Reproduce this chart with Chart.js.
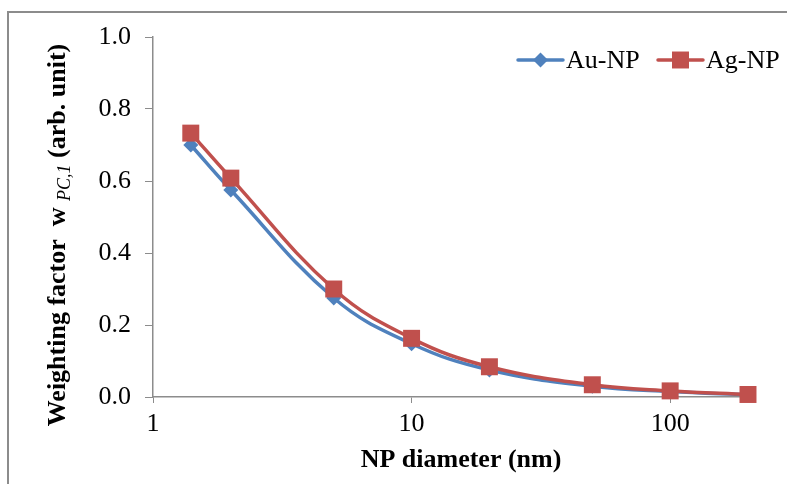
<!DOCTYPE html>
<html lang="en">

<head>
  <meta charset="UTF-8" />
  <title>Weighting factor vs NP diameter</title>
  <style>
    body {
      margin: 0;
      background: #fff;
    }
  </style>
</head>

<body>
  <canvas id="myChart" width="787" height="484"></canvas>

  <script src="https://cdn.jsdelivr.net/npm/chart.js"></script>
  <script>
    const diameters = [1.4, 2, 5, 10, 20, 50, 100, 200];
    const auNP = [0.70, 0.575, 0.275, 0.148, 0.075, 0.030, 0.015, 0.006];
    const agNP = [0.733, 0.608, 0.300, 0.163, 0.084, 0.034, 0.017, 0.007];
    const xTicks = [1, 10, 100];
    const seriesNames = ["Au-NP", "Ag-NP"];

    const blue = "#4f81bd";
    const red = "#c0504d";
    const serif = "'Liberation Serif', 'Times New Roman', serif";

    const toPoints = (ys) => diameters.map((d, i) => ({ x: d, y: ys[i] }));

    // frame, custom legend, axis titles (y one has a subscript)
    const extras = {
      id: "extras",
      beforeDraw(chart) {
        const c = chart.ctx;
        c.save();
        c.fillStyle = "#fff";
        c.fillRect(0, 0, chart.width, chart.height);
        c.strokeStyle = "#8c8c8c";
        c.lineWidth = 2;
        c.beginPath();
        c.moveTo(8, chart.height);
        c.lineTo(8, 12);
        c.lineTo(chart.width, 12);
        c.stroke();
        c.restore();
      },
      afterDraw(chart) {
        const c = chart.ctx;
        c.save();

        // legend
        const items = [
          { x: 518, color: blue, style: "rectRot", r: 7.5 },
          { x: 658, color: red, style: "rect", r: 12 },
        ];
        c.font = "26px " + serif;
        c.textBaseline = "middle";
        items.forEach((it, i) => {
          const y = 60;
          c.strokeStyle = it.color;
          c.lineWidth = 3.5;
          c.lineCap = "round";
          c.beginPath();
          c.moveTo(it.x, y);
          c.lineTo(it.x + 45, y);
          c.stroke();
          c.fillStyle = it.color;
          Chart.helpers.drawPoint(c, { pointStyle: it.style, radius: it.r, borderWidth: 0 }, it.x + 22.5, y);
          c.fillStyle = "#000";
          c.textAlign = "left";
          c.fillText(seriesNames[i], it.x + 48, y + 1);
        });

        // x axis title
        c.font = "bold 26px " + serif;
        c.textAlign = "center";
        c.textBaseline = "alphabetic";
        c.fillText("NP diameter (nm)", 461, 467);

        // y axis title
        const parts = [
          { t: "Weighting factor  w ", f: "bold 26px " + serif, dy: 0 },
          { t: "PC,1", f: "italic 18px " + serif, dy: 5 },
          { t: " (arb. unit)", f: "bold 26px " + serif, dy: 0 },
        ];
        let total = 0;
        parts.forEach((p) => {
          c.font = p.f;
          p.w = c.measureText(p.t).width;
          total += p.w;
        });
        c.translate(65, 235);
        c.rotate(-Math.PI / 2);
        c.textAlign = "left";
        let px = -total / 2;
        parts.forEach((p) => {
          c.font = p.f;
          c.fillText(p.t, px, p.dy);
          px += p.w;
        });
        c.restore();
      },
    };

    const ctx = document.getElementById("myChart");
    new Chart(ctx, {
      type: "line",
      data: {
        datasets: [
          {
            label: seriesNames[0],
            data: toPoints(auNP),
            borderColor: blue,
            backgroundColor: blue,
            borderWidth: 3.5,
            pointStyle: "rectRot",
            pointRadius: 7.5,
            pointBorderWidth: 0,
            tension: 0.4,
            clip: false,
            order: 1,
          },
          {
            label: seriesNames[1],
            data: toPoints(agNP),
            borderColor: red,
            backgroundColor: red,
            borderWidth: 3.5,
            pointStyle: "rect",
            pointRadius: 12,
            pointBorderWidth: 0,
            tension: 0.4,
            clip: false,
            order: 0,
          },
        ],
      },
      options: {
        responsive: false,
        animation: false,
        layout: { padding: { top: 37, right: 39, left: 0, bottom: 0 } },
        plugins: {
          legend: { display: false },
          tooltip: { enabled: false },
        },
        scales: {
          x: {
            type: "logarithmic",
            min: 1,
            max: 200,
            afterBuildTicks(scale) {
              scale.ticks = xTicks.map((v) => ({ value: v }));
            },
            afterFit(scale) {
              scale.height = 87;
            },
            border: { color: "#8c8c8c", width: 1.5 },
            grid: {
              drawOnChartArea: false,
              tickLength: 6,
              tickColor: "#8c8c8c",
            },
            ticks: {
              color: "#000",
              font: { family: serif, size: 26 },
              padding: 6,
              maxRotation: 0,
              callback: (v) => String(v),
            },
          },
          y: {
            min: 0,
            max: 1,
            afterFit(scale) {
              scale.width = 153;
            },
            border: { color: "#8c8c8c", width: 1.5 },
            grid: {
              drawOnChartArea: false,
              tickLength: 8,
              tickColor: "#8c8c8c",
            },
            ticks: {
              stepSize: 0.2,
              color: "#000",
              font: { family: serif, size: 26 },
              padding: 14,
              callback: (v) => v.toFixed(1),
            },
          },
        },
      },
      plugins: [extras],
    });
  </script>
</body>

</html>
